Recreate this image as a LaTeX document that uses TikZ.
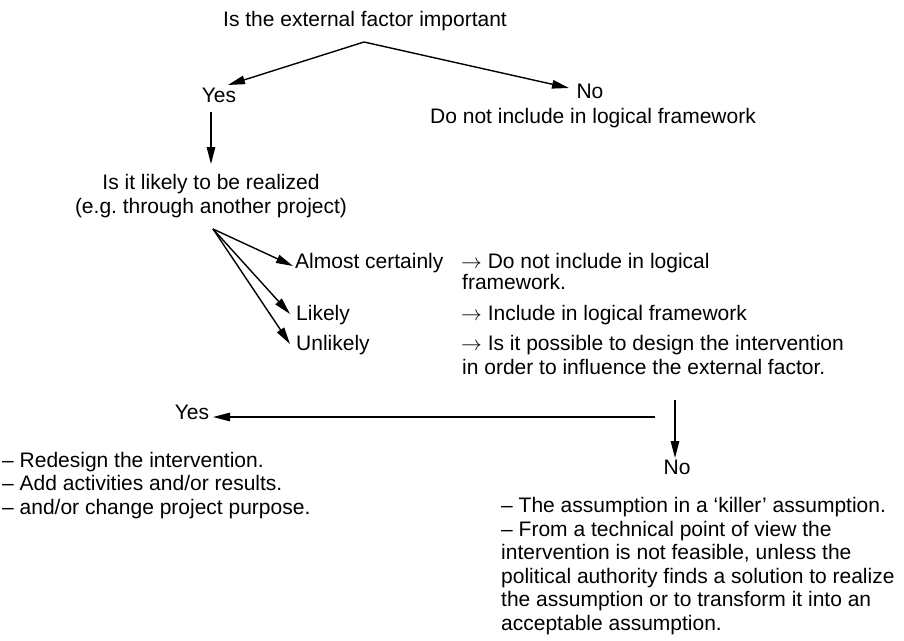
\documentclass[tikz,border=0pt]{standalone}
\usepackage{fontspec}
\setmainfont{Liberation Sans}
\usetikzlibrary{arrows.meta}
\begin{document}
\begin{tikzpicture}[x=1pt,y=-1pt,
  txt/.style={font=\fontsize{21}{24}\selectfont, inner sep=0pt, anchor=mid},
  ltxt/.style={font=\fontsize{21}{24}\selectfont, inner sep=0pt, anchor=mid west},
  arr/.style={line width=1.4pt, -{Triangle[length=17pt,width=8.5pt]}},
  ln/.style={line width=1.4pt}]
\useasboundingbox (0,0) rectangle (904,640);

% top question
\node[txt] (q1) at (365,24) {Is the external factor important};
\coordinate (apex) at (364,42);
\node[txt] (yes1) at (219,100) {Yes};
\coordinate (tipyes1) at (228,85);
\node[txt] (no1) at (590,96) {No};
\coordinate (tipno1) at (569,88);
\node[txt] (dn1) at (593,121) {Do not include in logical framework};
\draw[arr] (apex) -- (tipyes1);
\draw[arr] (apex) -- (tipno1);

% second question
\coordinate (v1a) at (211,112);
\coordinate (v1b) at (211,164);
\draw[arr] (v1a) -- (v1b);
\node[txt] (q2a) at (211,187) {Is it likely to be realized};
\node[txt] (q2b) at (211,211) {(e.g.\ through another project)};

\coordinate (org) at (213,229);
\node[ltxt] (alm) at (295,266) {Almost certainly};
\node[ltxt] (lik) at (296,318) {Likely};
\node[ltxt] (unl) at (296,348) {Unlikely};
\coordinate (t1) at (293,266);
\coordinate (t2) at (290,314);
\coordinate (t3) at (290,344);
\draw[arr] (org) -- (t1);
\draw[arr] (org) -- (t2);
\draw[arr] (org) -- (t3);

\node[ltxt] (r1) at (461,266) {$\rightarrow$ Do not include in logical};
\node[ltxt] (r1b) at (462,287) {framework.};
\node[ltxt] (r2) at (461,318) {$\rightarrow$ Include in logical framework};
\node[ltxt] (r3) at (461,348) {$\rightarrow$ Is it possible to design the intervention};
\node[ltxt] (r3b) at (462,372) {in order to influence the external factor.};

% yes / no
\node[txt] (yes2) at (192,417) {Yes};
\coordinate (hs) at (655,417);
\coordinate (tipyes2) at (213,417);
\draw[arr] (hs) -- (tipyes2);
\coordinate (v2a) at (675,400);
\coordinate (v2b) at (675,458);
\draw[arr] (v2a) -- (v2b);
\node[txt] (no2) at (677,472) {No};

% left block
\node[ltxt] (l1) at (2,465) {– Redesign the intervention.};
\node[ltxt] (l2) at (2,488) {– Add activities and/or results.};
\node[ltxt] (l3) at (2,512) {– and/or change project purpose.};

% right block
\node[ltxt] (b1) at (501,510) {– The assumption in a ‘killer’ assumption.};
\node[ltxt] (b2) at (501,533.5) {– From a technical point of view the};
\node[ltxt] (b3) at (501,557) {intervention is not feasible, unless the};
\node[ltxt] (b4) at (501,580.5) {political authority finds a solution to realize};
\node[ltxt] (b5) at (501,604) {the assumption or to transform it into an};
\node[ltxt] (b6) at (501,627.5) {acceptable assumption.};
\end{tikzpicture}
\end{document}
